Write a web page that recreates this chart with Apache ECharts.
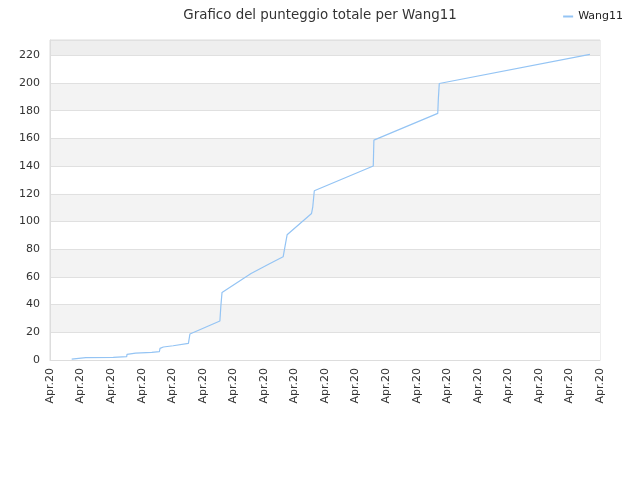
<!DOCTYPE html>
<html>
<head>
<meta charset="utf-8">
<script src="https://cdn.jsdelivr.net/npm/echarts@6/dist/echarts.min.js"></script>
<style>
  html, body { margin: 0; padding: 0; background: #fff; }
  #chart { width: 640px; height: 480px; }
</style>
</head>
<body>
<div id="chart"></div>
<script>
// posizioni lungo l'asse x (unita' = un tick)
let xValues = [0.71, 1.17, 2.07, 2.09, 2.51, 2.52, 2.80, 3.33, 3.58, 3.60, 3.71, 4.03, 4.53, 4.58,
  5.56, 5.59, 5.63, 6.08, 6.58, 7.20, 7.63, 7.69, 7.76, 8.56, 8.60, 8.65,
  10.58, 10.60, 12.69, 12.71, 12.74, 17.67]
// punteggio totale
let scores = [0.7, 1.7, 1.9, 2.4, 2.4, 4.1, 5.0, 5.5, 6.0, 8.4, 9.4, 10.3, 12.0, 18.8,
  28.1, 38.5, 48.8, 55.3, 62.5, 69.7, 74.5, 81.8, 90.4, 105.8, 110.6, 122.2,
  140.0, 158.7, 178.0, 188.7, 199.6, 220.6]
let tickLabels = ['Apr.20', 'Apr.20', 'Apr.20', 'Apr.20', 'Apr.20', 'Apr.20', 'Apr.20', 'Apr.20', 'Apr.20', 'Apr.20',
  'Apr.20', 'Apr.20', 'Apr.20', 'Apr.20', 'Apr.20', 'Apr.20', 'Apr.20', 'Apr.20', 'Apr.20']
let seriesName = 'Wang11'

let points = xValues.map((x, i) => [x, scores[i]])

let chart = echarts.init(document.getElementById('chart'))
chart.setOption({
  animation: false,
  title: {
    text: 'Grafico del punteggio totale per Wang11',
    left: 'center',
    top: 4,
    textStyle: { fontSize: 13.4, fontWeight: 'normal', color: '#333', fontFamily: 'DejaVu Sans' }
  },
  legend: {
    right: 12,
    top: 6,
    icon: 'rect',
    itemWidth: 10,
    itemHeight: 2,
    itemGap: 5,
    textStyle: { fontSize: 11, color: '#222', fontFamily: 'DejaVu Sans' },
    data: [seriesName]
  },
  grid: {
    left: 50, right: 40, top: 40, bottom: 120,
    show: true, borderColor: '#dddddd', borderWidth: 1
  },
  xAxis: {
    type: 'value',
    min: 0, max: 18, interval: 1,
    axisLine: { show: true, lineStyle: { color: '#dddddd' } },
    axisTick: { show: false },
    splitLine: { show: false },
    axisLabel: {
      rotate: 90,
      margin: 8,
      color: '#333',
      fontSize: 11,
      fontFamily: 'DejaVu Sans',
      formatter: v => tickLabels[v] || ''
    }
  },
  yAxis: {
    type: 'value',
    min: 0, max: 231, interval: 20,
    axisLine: { show: true, lineStyle: { color: '#dddddd' } },
    axisTick: { show: false },
    axisLabel: {
      color: '#333', fontSize: 11, fontFamily: 'DejaVu Sans', margin: 10,
      formatter: v => (v % 20 === 0 ? String(v) : '')
    },
    splitLine: { show: true, lineStyle: { color: '#e0e0e0' } },
    splitArea: {
      show: true,
      areaStyle: {
        color: ['#ffffff', '#f3f3f3', '#ffffff', '#f3f3f3', '#ffffff', '#f3f3f3',
          '#ffffff', '#f3f3f3', '#ffffff', '#f3f3f3', '#ffffff', '#eeeeee']
      }
    }
  },
  series: [{
    name: seriesName,
    type: 'line',
    data: points,
    showSymbol: false,
    symbol: 'none',
    color: '#94c4f4',
    lineStyle: { width: 1.2, color: '#94c4f4' }
  }]
})
window.onresize = () => chart.resize()
</script>
</body>
</html>
